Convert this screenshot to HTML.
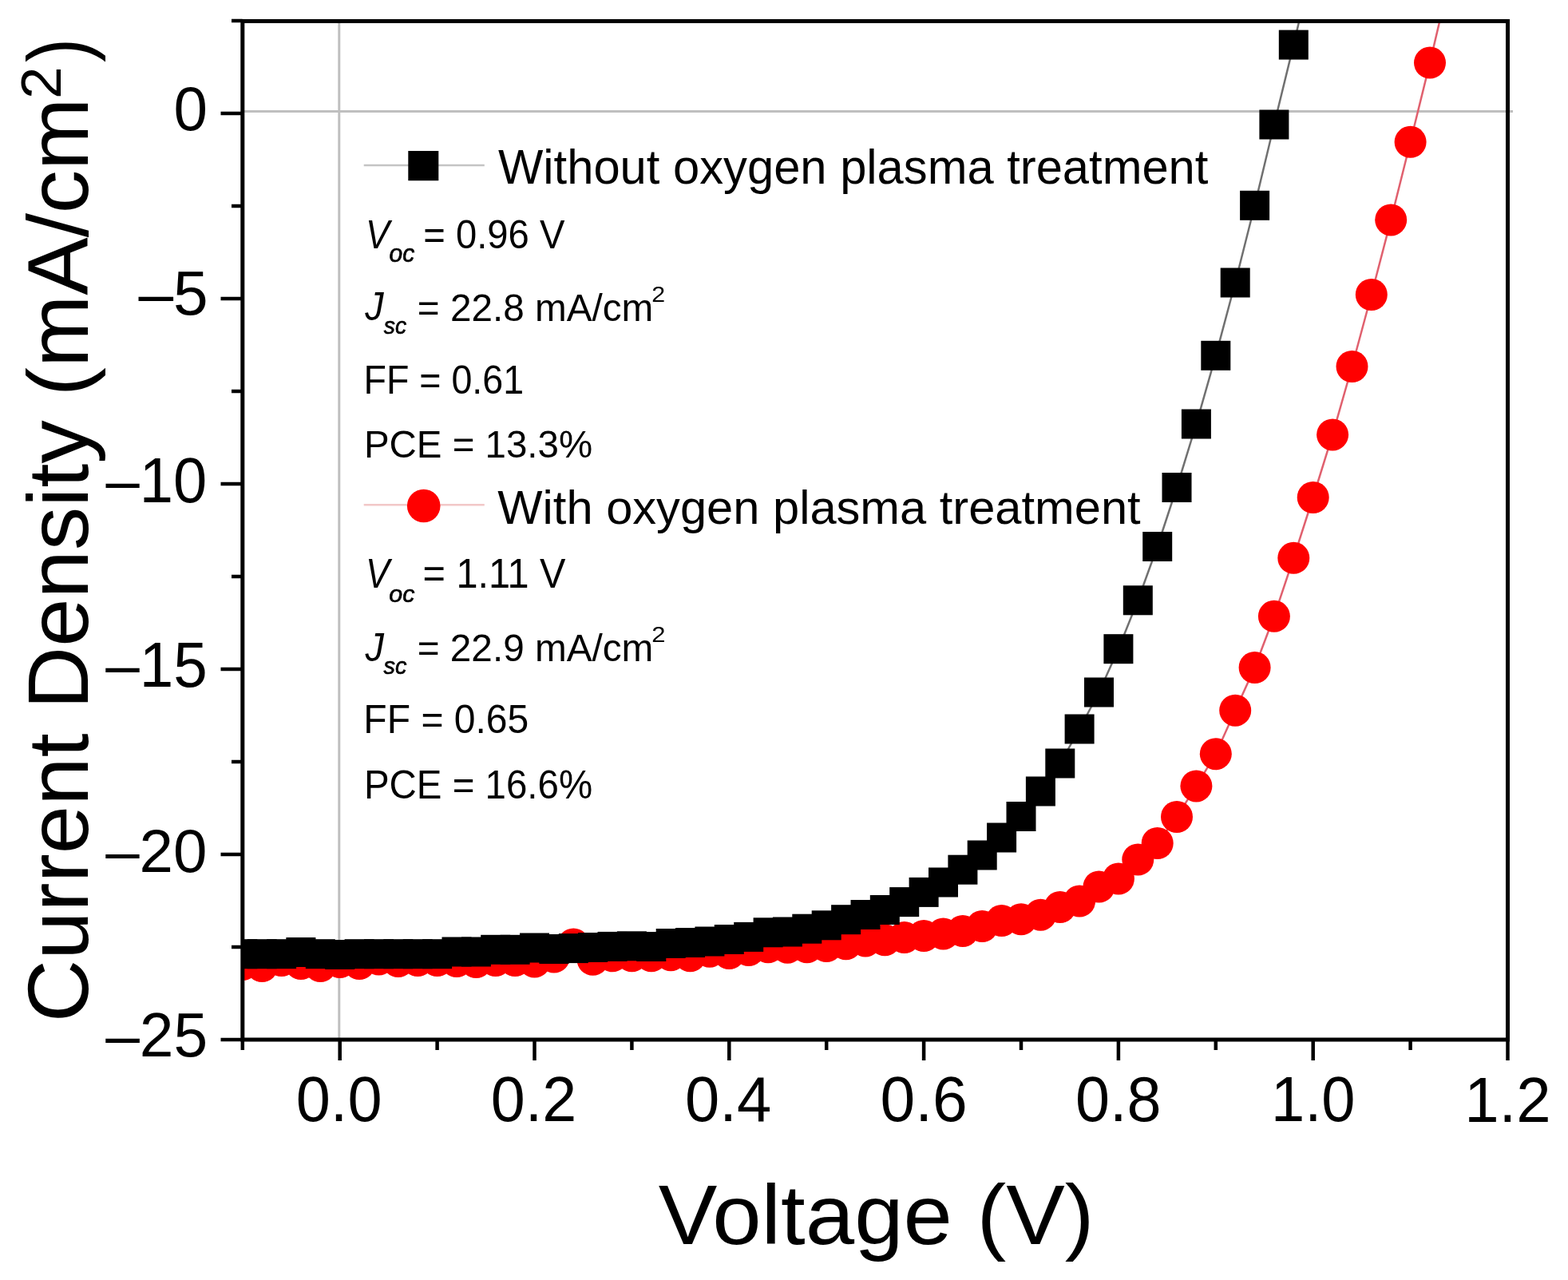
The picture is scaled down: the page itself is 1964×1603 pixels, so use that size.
<!DOCTYPE html>
<html><head><meta charset="utf-8"><title>J-V curve</title>
<style>html,body{margin:0;padding:0;background:#fff;overflow:hidden;width:1964px;height:1603px;}svg{display:block;}text{font-family:"Liberation Sans",Arial,Helvetica,sans-serif;fill:#000;}</style></head><body>
<svg width="1964" height="1603" viewBox="0 0 1964 1603">
<rect x="0" y="0" width="1964" height="1603" fill="#fff"/>
<defs><clipPath id="pa"><rect x="303.8" y="26.5" width="1584.7" height="1275.5"/></clipPath></defs>
<line x1="424.8" y1="26.5" x2="424.8" y2="1302.0" stroke="#bfbfbf" stroke-width="3"/>
<line x1="303.8" y1="139.6" x2="1895" y2="139.6" stroke="#bfbfbf" stroke-width="3"/>
<g clip-path="url(#pa)">
<polyline fill="none" stroke="#e0606e" stroke-width="2.5" points="303.8,1208.0 328.2,1210.0 352.6,1203.0 376.9,1207.0 401.3,1210.0 425.7,1205.0 450.1,1207.0 474.5,1201.6 498.8,1204.0 523.2,1203.0 547.6,1203.0 572.0,1204.0 596.4,1205.0 620.7,1203.0 645.1,1203.0 669.5,1204.5 693.9,1198.5 718.3,1182.4 742.6,1201.8 767.0,1197.3 791.4,1197.3 815.8,1197.3 840.2,1196.2 864.5,1197.3 888.9,1191.7 913.3,1194.0 937.7,1190.0 962.1,1186.3 986.4,1186.8 1010.8,1186.3 1035.2,1185.1 1059.6,1182.3 1084.0,1178.4 1108.3,1177.3 1132.7,1174.0 1157.1,1172.0 1181.5,1169.5 1205.9,1166.0 1230.2,1160.0 1254.6,1153.0 1279.0,1151.3 1303.4,1145.7 1327.8,1136.0 1352.1,1128.5 1376.5,1110.5 1400.9,1100.5 1425.3,1076.5 1449.7,1056.0 1474.0,1023.0 1498.4,984.4 1522.8,944.2 1547.2,889.7 1571.6,836.0 1595.9,771.8 1620.3,698.8 1644.7,623.0 1669.1,544.4 1693.5,459.0 1717.8,369.0 1742.2,275.4 1766.6,177.8 1791.0,78.6 1815.4,-25.0"/>
<g fill="#ff0000"><circle cx="303.8" cy="1208.0" r="20.0"/><circle cx="328.2" cy="1210.0" r="20.0"/><circle cx="352.6" cy="1203.0" r="20.0"/><circle cx="376.9" cy="1207.0" r="20.0"/><circle cx="401.3" cy="1210.0" r="20.0"/><circle cx="425.7" cy="1205.0" r="20.0"/><circle cx="450.1" cy="1207.0" r="20.0"/><circle cx="474.5" cy="1201.6" r="20.0"/><circle cx="498.8" cy="1204.0" r="20.0"/><circle cx="523.2" cy="1203.0" r="20.0"/><circle cx="547.6" cy="1203.0" r="20.0"/><circle cx="572.0" cy="1204.0" r="20.0"/><circle cx="596.4" cy="1205.0" r="20.0"/><circle cx="620.7" cy="1203.0" r="20.0"/><circle cx="645.1" cy="1203.0" r="20.0"/><circle cx="669.5" cy="1204.5" r="20.0"/><circle cx="693.9" cy="1198.5" r="20.0"/><circle cx="718.3" cy="1182.4" r="20.0"/><circle cx="742.6" cy="1201.8" r="20.0"/><circle cx="767.0" cy="1197.3" r="20.0"/><circle cx="791.4" cy="1197.3" r="20.0"/><circle cx="815.8" cy="1197.3" r="20.0"/><circle cx="840.2" cy="1196.2" r="20.0"/><circle cx="864.5" cy="1197.3" r="20.0"/><circle cx="888.9" cy="1191.7" r="20.0"/><circle cx="913.3" cy="1194.0" r="20.0"/><circle cx="937.7" cy="1190.0" r="20.0"/><circle cx="962.1" cy="1186.3" r="20.0"/><circle cx="986.4" cy="1186.8" r="20.0"/><circle cx="1010.8" cy="1186.3" r="20.0"/><circle cx="1035.2" cy="1185.1" r="20.0"/><circle cx="1059.6" cy="1182.3" r="20.0"/><circle cx="1084.0" cy="1178.4" r="20.0"/><circle cx="1108.3" cy="1177.3" r="20.0"/><circle cx="1132.7" cy="1174.0" r="20.0"/><circle cx="1157.1" cy="1172.0" r="20.0"/><circle cx="1181.5" cy="1169.5" r="20.0"/><circle cx="1205.9" cy="1166.0" r="20.0"/><circle cx="1230.2" cy="1160.0" r="20.0"/><circle cx="1254.6" cy="1153.0" r="20.0"/><circle cx="1279.0" cy="1151.3" r="20.0"/><circle cx="1303.4" cy="1145.7" r="20.0"/><circle cx="1327.8" cy="1136.0" r="20.0"/><circle cx="1352.1" cy="1128.5" r="20.0"/><circle cx="1376.5" cy="1110.5" r="20.0"/><circle cx="1400.9" cy="1100.5" r="20.0"/><circle cx="1425.3" cy="1076.5" r="20.0"/><circle cx="1449.7" cy="1056.0" r="20.0"/><circle cx="1474.0" cy="1023.0" r="20.0"/><circle cx="1498.4" cy="984.4" r="20.0"/><circle cx="1522.8" cy="944.2" r="20.0"/><circle cx="1547.2" cy="889.7" r="20.0"/><circle cx="1571.6" cy="836.0" r="20.0"/><circle cx="1595.9" cy="771.8" r="20.0"/><circle cx="1620.3" cy="698.8" r="20.0"/><circle cx="1644.7" cy="623.0" r="20.0"/><circle cx="1669.1" cy="544.4" r="20.0"/><circle cx="1693.5" cy="459.0" r="20.0"/><circle cx="1717.8" cy="369.0" r="20.0"/><circle cx="1742.2" cy="275.4" r="20.0"/><circle cx="1766.6" cy="177.8" r="20.0"/><circle cx="1791.0" cy="78.6" r="20.0"/><circle cx="1815.4" cy="-25.0" r="20.0"/></g>
<polyline fill="none" stroke="#707070" stroke-width="2.5" points="303.8,1194.7 328.2,1194.7 352.6,1194.7 376.9,1192.5 401.3,1194.7 425.7,1195.5 450.1,1194.7 474.5,1194.7 498.8,1194.7 523.2,1194.7 547.6,1194.7 572.0,1192.0 596.4,1192.0 620.7,1189.3 645.1,1189.3 669.5,1187.0 693.9,1188.5 718.3,1187.6 742.6,1186.5 767.0,1185.4 791.4,1184.8 815.8,1185.5 840.2,1181.5 864.5,1180.5 888.9,1179.0 913.3,1176.5 937.7,1173.4 962.1,1167.8 986.4,1167.0 1010.8,1163.2 1035.2,1158.8 1059.6,1151.7 1084.0,1145.5 1108.3,1139.5 1132.7,1129.6 1157.1,1117.4 1181.5,1105.0 1205.9,1089.2 1230.2,1071.0 1254.6,1049.0 1279.0,1022.5 1303.4,991.0 1327.8,956.0 1352.1,913.0 1376.5,867.0 1400.9,812.7 1425.3,751.8 1449.7,684.5 1474.0,610.5 1498.4,531.0 1522.8,445.3 1547.2,354.0 1571.6,257.3 1595.9,156.0 1620.3,56.1 1644.7,-48.0"/>
<g fill="#000"><rect x="285.3" y="1176.2" width="37.0" height="37.0"/><rect x="309.7" y="1176.2" width="37.0" height="37.0"/><rect x="334.1" y="1176.2" width="37.0" height="37.0"/><rect x="358.4" y="1174.0" width="37.0" height="37.0"/><rect x="382.8" y="1176.2" width="37.0" height="37.0"/><rect x="407.2" y="1177.0" width="37.0" height="37.0"/><rect x="431.6" y="1176.2" width="37.0" height="37.0"/><rect x="456.0" y="1176.2" width="37.0" height="37.0"/><rect x="480.3" y="1176.2" width="37.0" height="37.0"/><rect x="504.7" y="1176.2" width="37.0" height="37.0"/><rect x="529.1" y="1176.2" width="37.0" height="37.0"/><rect x="553.5" y="1173.5" width="37.0" height="37.0"/><rect x="577.9" y="1173.5" width="37.0" height="37.0"/><rect x="602.2" y="1170.8" width="37.0" height="37.0"/><rect x="626.6" y="1170.8" width="37.0" height="37.0"/><rect x="651.0" y="1168.5" width="37.0" height="37.0"/><rect x="675.4" y="1170.0" width="37.0" height="37.0"/><rect x="699.8" y="1169.1" width="37.0" height="37.0"/><rect x="724.1" y="1168.0" width="37.0" height="37.0"/><rect x="748.5" y="1166.9" width="37.0" height="37.0"/><rect x="772.9" y="1166.3" width="37.0" height="37.0"/><rect x="797.3" y="1167.0" width="37.0" height="37.0"/><rect x="821.7" y="1163.0" width="37.0" height="37.0"/><rect x="846.0" y="1162.0" width="37.0" height="37.0"/><rect x="870.4" y="1160.5" width="37.0" height="37.0"/><rect x="894.8" y="1158.0" width="37.0" height="37.0"/><rect x="919.2" y="1154.9" width="37.0" height="37.0"/><rect x="943.6" y="1149.3" width="37.0" height="37.0"/><rect x="967.9" y="1148.5" width="37.0" height="37.0"/><rect x="992.3" y="1144.7" width="37.0" height="37.0"/><rect x="1016.7" y="1140.3" width="37.0" height="37.0"/><rect x="1041.1" y="1133.2" width="37.0" height="37.0"/><rect x="1065.5" y="1127.0" width="37.0" height="37.0"/><rect x="1089.8" y="1121.0" width="37.0" height="37.0"/><rect x="1114.2" y="1111.1" width="37.0" height="37.0"/><rect x="1138.6" y="1098.9" width="37.0" height="37.0"/><rect x="1163.0" y="1086.5" width="37.0" height="37.0"/><rect x="1187.4" y="1070.7" width="37.0" height="37.0"/><rect x="1211.7" y="1052.5" width="37.0" height="37.0"/><rect x="1236.1" y="1030.5" width="37.0" height="37.0"/><rect x="1260.5" y="1004.0" width="37.0" height="37.0"/><rect x="1284.9" y="972.5" width="37.0" height="37.0"/><rect x="1309.3" y="937.5" width="37.0" height="37.0"/><rect x="1333.6" y="894.5" width="37.0" height="37.0"/><rect x="1358.0" y="848.5" width="37.0" height="37.0"/><rect x="1382.4" y="794.2" width="37.0" height="37.0"/><rect x="1406.8" y="733.3" width="37.0" height="37.0"/><rect x="1431.2" y="666.0" width="37.0" height="37.0"/><rect x="1455.5" y="592.0" width="37.0" height="37.0"/><rect x="1479.9" y="512.5" width="37.0" height="37.0"/><rect x="1504.3" y="426.8" width="37.0" height="37.0"/><rect x="1528.7" y="335.5" width="37.0" height="37.0"/><rect x="1553.1" y="238.8" width="37.0" height="37.0"/><rect x="1577.4" y="137.5" width="37.0" height="37.0"/><rect x="1601.8" y="37.6" width="37.0" height="37.0"/><rect x="1626.2" y="-66.5" width="37.0" height="37.0"/></g>
</g>
<rect x="303.8" y="26.5" width="1584.7" height="1275.5" fill="none" stroke="#000" stroke-width="5"/>
<line x1="276.5" y1="142.0" x2="303.8" y2="142.0" stroke="#000" stroke-width="4.5"/>
<line x1="276.5" y1="374.0" x2="303.8" y2="374.0" stroke="#000" stroke-width="4.5"/>
<line x1="276.5" y1="606.0" x2="303.8" y2="606.0" stroke="#000" stroke-width="4.5"/>
<line x1="276.5" y1="838.0" x2="303.8" y2="838.0" stroke="#000" stroke-width="4.5"/>
<line x1="276.5" y1="1070.0" x2="303.8" y2="1070.0" stroke="#000" stroke-width="4.5"/>
<line x1="276.5" y1="1302.0" x2="303.8" y2="1302.0" stroke="#000" stroke-width="4.5"/>
<line x1="290" y1="26.0" x2="303.8" y2="26.0" stroke="#000" stroke-width="4.5"/>
<line x1="290" y1="258.0" x2="303.8" y2="258.0" stroke="#000" stroke-width="4.5"/>
<line x1="290" y1="490.0" x2="303.8" y2="490.0" stroke="#000" stroke-width="4.5"/>
<line x1="290" y1="722.0" x2="303.8" y2="722.0" stroke="#000" stroke-width="4.5"/>
<line x1="290" y1="954.0" x2="303.8" y2="954.0" stroke="#000" stroke-width="4.5"/>
<line x1="290" y1="1186.0" x2="303.8" y2="1186.0" stroke="#000" stroke-width="4.5"/>
<line x1="425.7" y1="1302.0" x2="425.7" y2="1328" stroke="#000" stroke-width="4.5"/>
<line x1="669.5" y1="1302.0" x2="669.5" y2="1328" stroke="#000" stroke-width="4.5"/>
<line x1="913.3" y1="1302.0" x2="913.3" y2="1328" stroke="#000" stroke-width="4.5"/>
<line x1="1157.1" y1="1302.0" x2="1157.1" y2="1328" stroke="#000" stroke-width="4.5"/>
<line x1="1400.9" y1="1302.0" x2="1400.9" y2="1328" stroke="#000" stroke-width="4.5"/>
<line x1="1644.7" y1="1302.0" x2="1644.7" y2="1328" stroke="#000" stroke-width="4.5"/>
<line x1="1888.5" y1="1302.0" x2="1888.5" y2="1328" stroke="#000" stroke-width="4.5"/>
<line x1="303.8" y1="1302.0" x2="303.8" y2="1315" stroke="#000" stroke-width="4.5"/>
<line x1="547.6" y1="1302.0" x2="547.6" y2="1315" stroke="#000" stroke-width="4.5"/>
<line x1="791.4" y1="1302.0" x2="791.4" y2="1315" stroke="#000" stroke-width="4.5"/>
<line x1="1035.2" y1="1302.0" x2="1035.2" y2="1315" stroke="#000" stroke-width="4.5"/>
<line x1="1279.0" y1="1302.0" x2="1279.0" y2="1315" stroke="#000" stroke-width="4.5"/>
<line x1="1522.8" y1="1302.0" x2="1522.8" y2="1315" stroke="#000" stroke-width="4.5"/>
<line x1="1766.6" y1="1302.0" x2="1766.6" y2="1315" stroke="#000" stroke-width="4.5"/>
<text transform="translate(217.54,163.33) scale(0.7642,0.7746)" font-size="100">0</text>
<text transform="translate(173.40,394.42) scale(0.7850,0.7757)" font-size="100">–5</text>
<text transform="translate(132.50,628.70) scale(0.7595,0.7986)" font-size="100">–10</text>
<text transform="translate(132.30,860.11) scale(0.7643,0.7929)" font-size="100">–15</text>
<text transform="translate(132.20,1091.93) scale(0.7626,0.7690)" font-size="100">–20</text>
<text transform="translate(132.20,1322.53) scale(0.7674,0.7690)" font-size="100">–25</text>
<text transform="translate(370.70,1404.21) scale(0.7756,0.7944)" font-size="100">0.0</text>
<text transform="translate(614.71,1404.01) scale(0.7731,0.7901)" font-size="100">0.2</text>
<text transform="translate(858.09,1404.01) scale(0.7773,0.7901)" font-size="100">0.4</text>
<text transform="translate(1102.46,1404.01) scale(0.7862,0.7901)" font-size="100">0.6</text>
<text transform="translate(1346.90,1404.01) scale(0.7739,0.7901)" font-size="100">0.8</text>
<text transform="translate(1591.91,1404.01) scale(0.7592,0.7901)" font-size="100">1.0</text>
<text transform="translate(1834.15,1404.50) scale(0.7802,0.7971)" font-size="100">1.2</text>
<text transform="translate(824.75,1557.63) scale(1.1033,1.0652)" font-size="100">Voltage (V)</text>
<text transform="translate(110.36,1280.13) rotate(-90) scale(1.0852,1.0684)" font-size="100">Current Density (mA/cm</text>
<text transform="translate(75.60,123.95) rotate(-90) scale(0.7297,0.6986)" font-size="100">2</text>
<text transform="translate(110.36,77.90) rotate(-90) scale(0.9038,1.0684)" font-size="100">)</text>
<line x1="455.7" y1="207" x2="606.8" y2="207" stroke="#c4c4c4" stroke-width="2.5"/>
<rect x="511.3" y="189" width="38" height="37.2" fill="#000"/>
<text transform="translate(624.00,229.96) scale(0.5972,0.6021)" font-size="100">Without oxygen plasma treatment</text>
<line x1="455.7" y1="632.2" x2="606.8" y2="632.2" stroke="#f2c8c8" stroke-width="2.5"/>
<circle cx="530.7" cy="633.5" r="20.8" fill="#ff0000"/>
<text transform="translate(623.30,655.68) scale(0.5965,0.5914)" font-size="100">With oxygen plasma treatment</text>
<text transform="translate(457.99,310.60) scale(0.4485,0.5058)" font-size="100" font-style="italic">V</text>
<text transform="translate(487.45,328.49) scale(0.3000,0.3055)" font-size="100" font-style="italic" stroke="#000" stroke-width="2.2">oc</text>
<text transform="translate(530.34,310.80) scale(0.4719,0.4972)" font-size="100">= 0.96 V</text>
<text transform="translate(457.30,401.49) scale(0.4673,0.5086)" font-size="100" font-style="italic">J</text>
<text transform="translate(480.76,417.71) scale(0.2832,0.2909)" font-size="100" font-style="italic" stroke="#000" stroke-width="2.2">sc</text>
<text transform="translate(522.82,401.51) scale(0.4768,0.4898)" font-size="100">= 22.8 mA/cm</text>
<text transform="translate(816.18,377.70) scale(0.3033,0.2843)" font-size="100">2</text>
<text transform="translate(455.47,492.50) scale(0.4658,0.5000)" font-size="100">FF = 0.61</text>
<text transform="translate(455.90,572.51) scale(0.4747,0.4887)" font-size="100">PCE = 13.3%</text>
<text transform="translate(457.99,736.00) scale(0.4485,0.5174)" font-size="100" font-style="italic">V</text>
<text transform="translate(487.24,753.50) scale(0.3040,0.2964)" font-size="100" font-style="italic" stroke="#000" stroke-width="2.2">oc</text>
<text transform="translate(529.57,736.30) scale(0.4866,0.5188)" font-size="100">= 1.11 V</text>
<text transform="translate(457.50,827.50) scale(0.4693,0.5029)" font-size="100" font-style="italic">J</text>
<text transform="translate(480.56,844.40) scale(0.2893,0.3036)" font-size="100" font-style="italic" stroke="#000" stroke-width="2.2">sc</text>
<text transform="translate(522.71,827.52) scale(0.4771,0.4830)" font-size="100">= 22.9 mA/cm</text>
<text transform="translate(816.35,804.00) scale(0.3099,0.2786)" font-size="100">2</text>
<text transform="translate(455.36,918.49) scale(0.4805,0.5070)" font-size="100">FF = 0.65</text>
<text transform="translate(455.90,1000.00) scale(0.4747,0.4958)" font-size="100">PCE = 16.6%</text>
</svg></body></html>
